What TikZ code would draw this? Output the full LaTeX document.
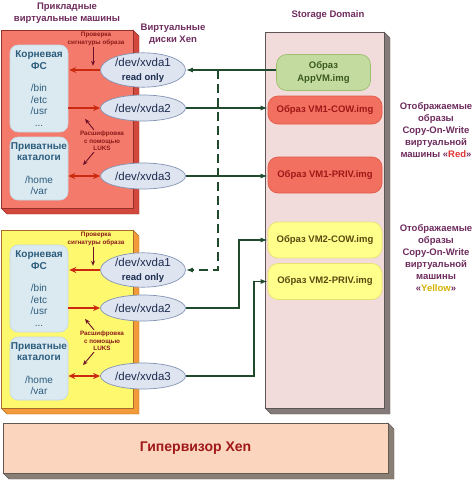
\documentclass[tikz,border=0pt]{standalone}
\usepackage{fontspec}
\setmainfont{Liberation Sans}
\usetikzlibrary{arrows.meta,shapes.geometric}

\definecolor{ttlpurple}{HTML}{6E2C5E}
\definecolor{vmred}{HTML}{F47A6B}
\definecolor{vmredside}{HTML}{D2483C}
\definecolor{vmyel}{HTML}{FDF86E}
\definecolor{vmyelside}{HTML}{F39A3A}
\definecolor{dirfill}{HTML}{DBE9F1}
\definecolor{dirline}{HTML}{C3D8E5}
\definecolor{dirtxt}{HTML}{2C5C7C}
\definecolor{diskfill}{HTML}{DEE4F0}
\definecolor{diskline}{HTML}{8294B4}
\definecolor{disktxt}{HTML}{1C2C50}
\definecolor{notetxt}{HTML}{8B1A1A}
\definecolor{redarrow}{HTML}{CC2A10}
\definecolor{lblarrow}{HTML}{6B1028}
\definecolor{connc}{HTML}{1F4A2C}
\definecolor{storfill}{HTML}{F2DCDB}
\definecolor{storside}{HTML}{857A7A}
\definecolor{hypfill}{HTML}{FBD5BD}
\definecolor{hypside}{HTML}{8A7F75}
\definecolor{appfill}{HTML}{C4DBA0}
\definecolor{appline}{HTML}{9CBF70}
\definecolor{apptxt}{HTML}{3C5A1E}
\definecolor{imgred}{HTML}{F2705F}
\definecolor{imgredline}{HTML}{E05A4A}
\definecolor{imgredtxt}{HTML}{A01818}
\definecolor{imgyel}{HTML}{FFFF8C}
\definecolor{imgyelline}{HTML}{E8E070}
\definecolor{imgyeltxt}{HTML}{5A4A10}
\definecolor{redword}{HTML}{E03030}
\definecolor{yelword}{HTML}{D4B000}

% box with a 3D side: x0, y0, x1, y1, front colour, side colour
\newcommand{\slabbox}[6]{%
  \filldraw[draw=#6!70!black, fill=#6, line width=0.4pt]
    (#3,#2) -- (#3+6,#2+6) -- (#3+6,#4+6) -- (#1+6,#4+6) -- (#1,#4) -- cycle;
  \filldraw[draw=#6!70!black, fill=#5, line width=0.4pt] (#1,#2) rectangle (#3,#4);
}

\begin{document}
\begin{tikzpicture}[x=1pt,y=-1pt,
    title/.style={text=ttlpurple, font=\bfseries\fontsize{9.5}{12}\selectfont, align=center},
    dirbox/.style={rectangle, rounded corners=8pt, fill=dirfill, draw=dirline, line width=0.6pt,
      minimum width=58pt, inner sep=0pt, text=dirtxt, align=center, font=\fontsize{10}{11.5}\selectfont},
    disk/.style={ellipse, fill=diskfill, draw=diskline, line width=0.7pt, minimum width=85pt,
      minimum height=26pt, inner sep=0pt, text=disktxt, align=center, font=\fontsize{11.5}{13}\selectfont},
    note/.style={text=notetxt, align=center, inner sep=1pt, font=\bfseries\fontsize{6.3}{7.6}\selectfont},
    imgbox/.style={rectangle, rounded corners=10pt, minimum width=114pt, line width=0.7pt,
      inner sep=0pt, align=center, font=\bfseries\fontsize{9.5}{13}\selectfont},
    redarr/.style={draw=redarrow, line width=1.8pt, -{Stealth[length=7pt,width=6pt]}},
    lblarr/.style={draw=lblarrow, line width=0.9pt, -{Stealth[length=5pt,width=4pt]}},
    conn/.style={draw=connc, line width=1.4pt, -{Latex[length=7pt,width=5pt]}}]

  % keep the margins of the reference
  \useasboundingbox (0,0) rectangle (475,480);

  % titles
  \node[title] (ttl-vm) at (67,13) {Прикладные\\виртуальные машины};
  \node[title] (ttl-disk) at (173,34) {Виртуальные\\диски Xen};
  \node[title] (ttl-stor) at (328,15) {Storage Domain};

  % the two virtual machines
  \foreach \v/\dy in {1/0, 2/200} {
    \ifnum\v=1
      \slabbox{1}{30+\dy}{133}{208+\dy}{vmred}{vmredside}
    \else
      \slabbox{1}{30+\dy}{133}{208+\dy}{vmyel}{vmyelside}
    \fi
    \node[dirbox, minimum height=87pt] (vm\v-root) at (39,88.5+\dy)
      {\textbf{Корневая}\\\textbf{ФС}\\[11pt]/bin\\/etc\\/usr\\...};
    \node[dirbox, minimum height=63pt] (vm\v-priv) at (39,168.5+\dy)
      {\textbf{Приватные}\\\textbf{каталоги}\\[11pt]/home\\/var};
    \node[disk, minimum height=34pt] (vm\v-d1) at (143,70+\dy)
      {/dev/xvda1\\[1pt]{\bfseries\fontsize{9.5}{11}\selectfont read only}};
    \node[disk] (vm\v-d2) at (143,108+\dy) {/dev/xvda2};
    \node[disk] (vm\v-d3) at (143,176+\dy) {/dev/xvda3};
    \node[note] (vm\v-chk) at (96,39+\dy) {Проверка\\сигнатуры образа};
    \node[note] (vm\v-luks) at (102,141+\dy) {Расшифровка\\с помощью\\LUKS};
    % disks to file systems
    \draw[redarr, shorten >=1pt] (vm\v-d1.west) -- (vm\v-d1.west -| vm\v-root.east);
    \draw[redarr] (vm\v-d2.west -| vm\v-root.east) -- (vm\v-d2.west);
    \draw[redarr, {Stealth[length=7pt,width=6pt]}-{Stealth[length=7pt,width=6pt]}]
      (vm\v-d3.west -| vm\v-priv.east) -- (vm\v-d3.west);
    % notes
    \draw[lblarr] ([xshift=-3pt]vm\v-chk.south) -- ++(0,19);
    \draw[lblarr] ([xshift=-8pt]vm\v-luks.north) -- ++(-9,-11);
    \draw[lblarr] ([xshift=-8pt]vm\v-luks.south) -- ++(-11,13);
  }

  % storage domain
  \slabbox{265}{32}{384}{408}{storfill}{storside}
  \node[imgbox, fill=appfill, draw=appline, text=apptxt, minimum width=94pt, minimum height=36pt]
    (app) at (323.5,72.5) {Образ\\AppVM.img};
  \node[imgbox, fill=imgred, draw=imgredline, text=imgredtxt, minimum height=28pt]
    (cow1) at (325,110) {Образ VM1-COW.img};
  \node[imgbox, fill=imgred, draw=imgredline, text=imgredtxt, minimum height=36pt]
    (priv1) at (325,175) {Образ VM1-PRIV.img};
  \node[imgbox, fill=imgyel, draw=imgyelline, text=imgyeltxt, minimum height=36pt]
    (cow2) at (325,240) {Образ VM2-COW.img};
  \node[imgbox, fill=imgyel, draw=imgyelline, text=imgyeltxt, minimum height=36pt]
    (priv2) at (325,281.5) {Образ VM2-PRIV.img};

  % mapped images
  \node[title] (map-red) at (436,130.5)
    {Отображаемые\\образы\\Copy-On-Write\\виртуальной\\машины «\textcolor{redword}{Red}»};
  \node[title] (map-yel) at (436,258)
    {Отображаемые\\образы\\Copy-On-Write\\виртуальной\\машины\\«\textcolor{yelword}{Yellow}»};

  % connectors
  \coordinate (jn) at (218,70);
  \draw[conn] (vm1-d1.east -| app.west) -- (vm1-d1.east);
  \draw[conn, dash pattern=on 9pt off 5pt] (jn) |- (vm2-d1.east);
  \draw[conn] (vm1-d2.east) -- (vm1-d2.east -| cow1.west);
  \draw[conn] (vm1-d3.east) -- (vm1-d3.east -| priv1.west);
  \draw[conn] (vm2-d2.east) -- ++(53,0) |- (cow2.west);
  \draw[conn] (vm2-d3.east) -- ++(68,0) |- (priv2.west);

  % hypervisor
  \slabbox{3}{423}{388}{473}{hypfill}{hypside}
  \node[text=imgredtxt, font=\bfseries\fontsize{14}{16}\selectfont] (hyp) at (195.5,448) {Гипервизор Xen};

\end{tikzpicture}
\end{document}
